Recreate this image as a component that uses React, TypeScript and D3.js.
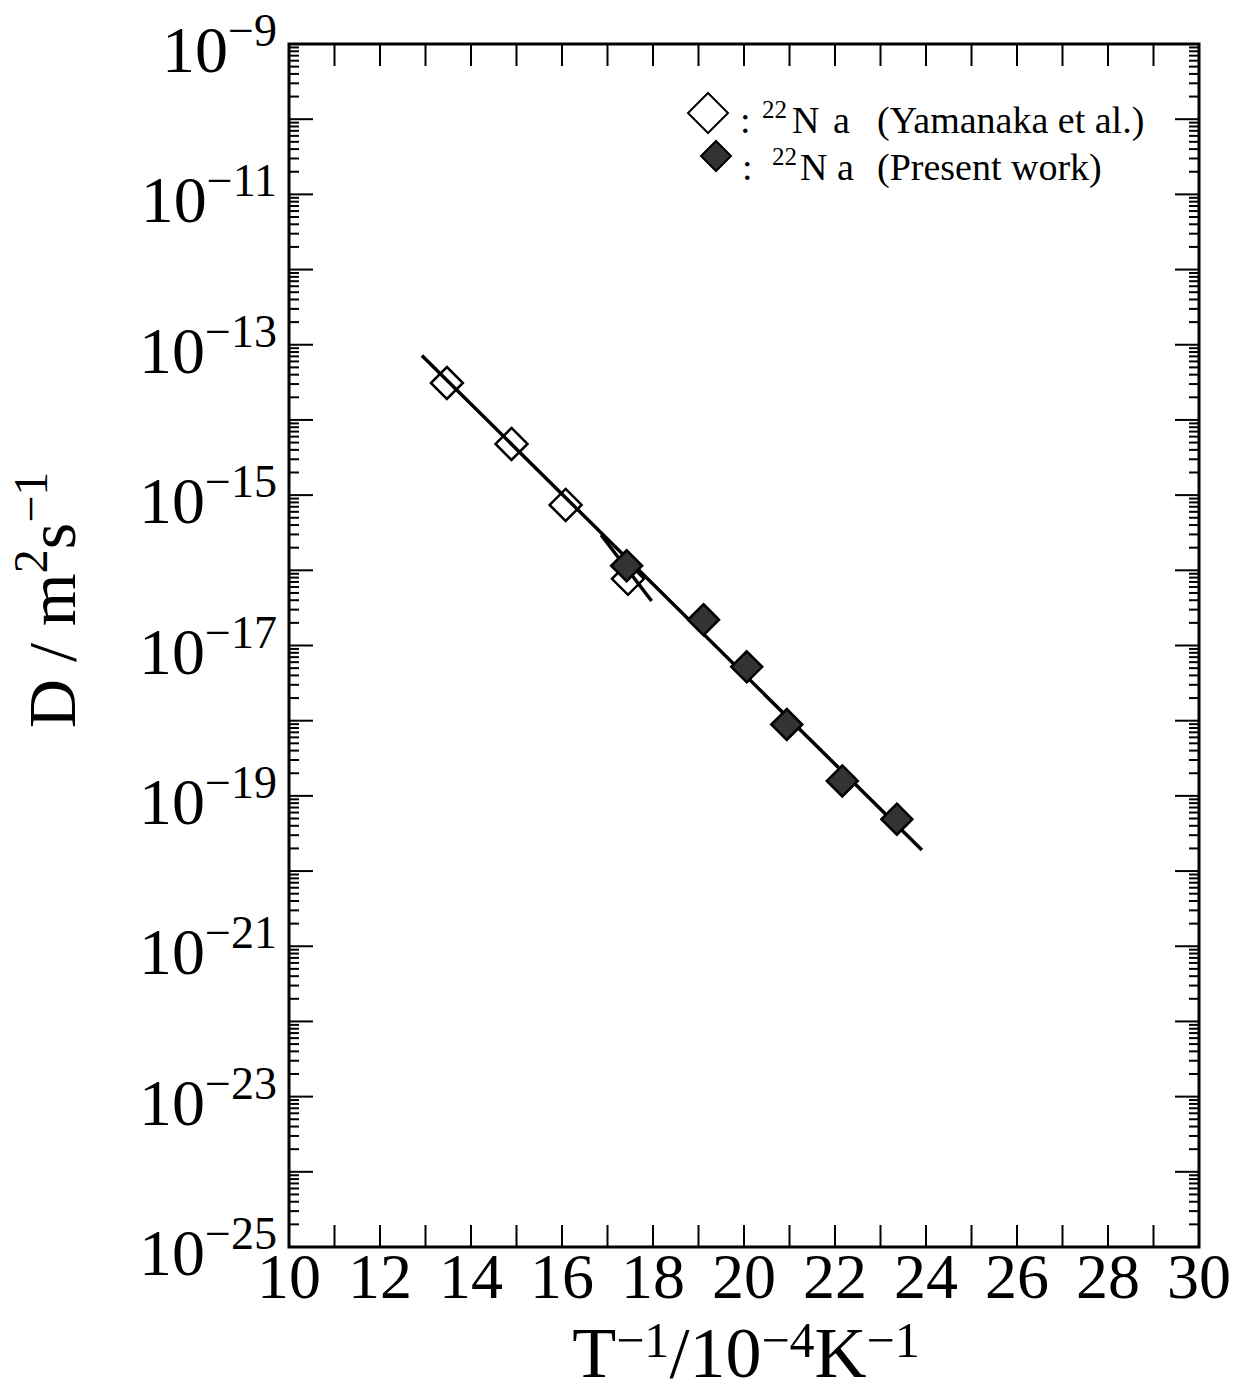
import React from "react";
import * as d3 from "d3";

// Yamanaka et al. (open diamonds)
const yamanakaX = [13.47, 14.89, 16.08, 17.45];
const yamanakaD = [3.1e-14, 4.8e-15, 7.4e-16, 7.7e-17];

// present work (filled diamonds)
const presentX = [17.42, 19.11, 20.06, 20.94, 22.16, 23.36];
const presentD = [1.15e-16, 2.2e-17, 5.2e-18, 8.9e-19, 1.58e-19, 4.9e-20];

// fit lines (end points)
const mainFitX = [12.92, 23.91];
const mainFitD = [7.2e-14, 1.9e-20];
const shortFitX = [16.86, 17.97];
const shortFitD = [2.95e-16, 3.9e-17];

const xTickLabels = [10, 12, 14, 16, 18, 20, 22, 24, 26, 28, 30];
const yLabelExps = [-9, -11, -13, -15, -17, -19, -21, -23, -25];

const W = 1235;
const H = 1393;
const m = { left: 289, right: 1199, top: 44, bottom: 1247 };
const font = "'Liberation Serif', 'Times New Roman', serif";

function diamond(cx: number, cy: number, r: number) {
  return `M${cx},${cy - r}L${cx + r},${cy}L${cx},${cy + r}L${cx - r},${cy}Z`;
}

export default function App() {
  const x = d3.scaleLinear().domain([10, 30]).range([m.left, m.right]);
  const y = d3.scaleLog().domain([1e-25, 1e-9]).range([m.bottom, m.top]);

  const line = d3
    .line<[number, number]>()
    .x((d) => x(d[0]))
    .y((d) => y(d[1]));

  const xTicks = d3.range(10, 31);
  const majorY: number[] = d3.range(-25, -8).map((e) => Math.pow(10, e));
  const minorY: number[] = [];
  for (let e = -25; e < -9; e++) {
    for (let k = 2; k <= 9; k++) minorY.push(k * Math.pow(10, e));
  }

  return (
    <svg
      width={W}
      height={H}
      style={{ position: "absolute", left: 0, top: 0, background: "#fff" }}
      fontFamily={font}
    >
      <rect x={0} y={0} width={W} height={H} fill="#fff" />

      {/* ticks on all four sides, pointing inward */}
      <g stroke="#000" strokeWidth={2}>
        {xTicks.map((t) => (
          <g key={"xt" + t}>
            <line x1={x(t)} x2={x(t)} y1={m.bottom} y2={m.bottom - 22} />
            <line x1={x(t)} x2={x(t)} y1={m.top} y2={m.top + 22} />
          </g>
        ))}
        {majorY.map((v, i) => (
          <g key={"ym" + i}>
            <line x1={m.left} x2={m.left + 24} y1={y(v)} y2={y(v)} />
            <line x1={m.right} x2={m.right - 24} y1={y(v)} y2={y(v)} />
          </g>
        ))}
        {minorY.map((v, i) => (
          <g key={"yn" + i}>
            <line x1={m.left} x2={m.left + 10} y1={y(v)} y2={y(v)} />
            <line x1={m.right} x2={m.right - 10} y1={y(v)} y2={y(v)} />
          </g>
        ))}
      </g>

      <rect
        x={m.left}
        y={m.top}
        width={m.right - m.left}
        height={m.bottom - m.top}
        fill="none"
        stroke="#000"
        strokeWidth={3}
      />

      {/* x tick labels */}
      {xTickLabels.map((t) => (
        <text key={"xl" + t} x={x(t)} y={m.bottom + 51} fontSize={64} textAnchor="middle">
          {t}
        </text>
      ))}

      {/* y tick labels */}
      {yLabelExps.map((e) => (
        <text key={"yl" + e} x={277} y={y(Math.pow(10, e)) + 28} fontSize={66} textAnchor="end">
          <tspan>10</tspan>
          <tspan dy={-26} fontSize={46}>
            {"\u2212" + Math.abs(e)}
          </tspan>
        </text>
      ))}

      {/* axis titles */}
      <text x={746} y={1377} fontSize={72} textAnchor="middle">
        <tspan>T</tspan>
        <tspan baselineShift={20} fontSize={50}>{"\u22121"}</tspan>
        <tspan>/10</tspan>
        <tspan baselineShift={20} fontSize={50}>{"\u22124"}</tspan>
        <tspan>K</tspan>
        <tspan baselineShift={20} fontSize={50}>{"\u22121"}</tspan>
      </text>
      <text transform="translate(75,600) rotate(-90)" fontSize={68} textAnchor="middle">
        <tspan>D / m</tspan>
        <tspan dy={-28} fontSize={48}>2</tspan>
        <tspan dy={28}>s</tspan>
        <tspan dy={-28} fontSize={48}>{"\u22121"}</tspan>
      </text>

      {/* fit lines */}
      <path
        d={line(mainFitX.map((v, i) => [v, mainFitD[i]]) as [number, number][]) || ""}
        fill="none"
        stroke="#000"
        strokeWidth={3.5}
      />
      <path
        d={line(shortFitX.map((v, i) => [v, shortFitD[i]]) as [number, number][]) || ""}
        fill="none"
        stroke="#000"
        strokeWidth={3.5}
      />

      {/* data */}
      {yamanakaX.map((v, i) => (
        <path key={"ya" + i} d={diamond(x(v), y(yamanakaD[i]), 16)} fill="none" stroke="#000" strokeWidth={2.5} />
      ))}
      {presentX.map((v, i) => (
        <path key={"pr" + i} d={diamond(x(v), y(presentD[i]), 15.5)} fill="#333" stroke="#000" strokeWidth={2.5} />
      ))}

      {/* legend */}
      <g fontSize={38}>
        <path d={diamond(708, 113, 20)} fill="none" stroke="#000" strokeWidth={2} />
        <text x={740} y={133}>:</text>
        <text x={762} y={118} fontSize={25}>22</text>
        <text x={792} y={133}>N</text>
        <text x={833} y={133}>a</text>
        <text x={877} y={133}>(Yamanaka et al.)</text>

        <path d={diamond(716, 156, 15)} fill="#333" stroke="#000" strokeWidth={2} />
        <text x={742} y={180}>:</text>
        <text x={772} y={165} fontSize={25}>22</text>
        <text x={800} y={180}>N</text>
        <text x={837} y={180}>a</text>
        <text x={877} y={180}>(Present work)</text>
      </g>
    </svg>
  );
}
